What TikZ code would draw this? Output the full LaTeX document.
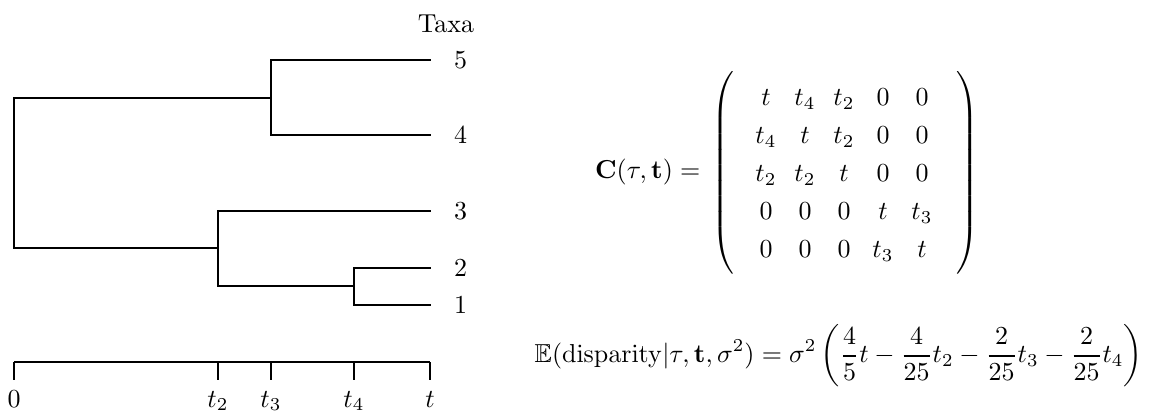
\documentclass[tikz,border=0pt]{standalone}
\usepackage{amsmath,amssymb}
\begin{document}
\begin{tikzpicture}[x=0.385pt,y=-0.385pt,line width=0.55pt,
  branch/.style={line cap=rect},
  tiplabel/.style={anchor=west,inner sep=0pt,xshift=9},
  axlabel/.style={anchor=base,inner sep=0pt},
  entry/.style={anchor=base,inner sep=0pt},
  paren/.style={inner sep=0pt}]
\useasboundingbox (0,0) rectangle (1158,412);
% tree coordinates
\coordinate (root) at (14,173);
\coordinate (nA) at (271,98);
\coordinate (nB) at (218,248);
\coordinate (nC) at (354,286);
\coordinate (tip5) at (430,60);
\coordinate (tip4) at (430,135);
\coordinate (tip3) at (430,211);
\coordinate (tip2) at (430,268);
\coordinate (tip1) at (430,305);
\draw[branch] (nA) -| (root) |- (nB);
\draw[branch] (tip5) -| (nA) |- (tip4);
\draw[branch] (tip3) -| (nB) |- (nC);
\draw[branch] (tip2) -| (nC) |- (tip1);
\node[tiplabel] (l5) at (tip5) {5};
\node[tiplabel] (l4) at (tip4) {4};
\node[tiplabel] (l3) at (tip3) {3};
\node[tiplabel] (l2) at (tip2) {2};
\node[tiplabel] (l1) at (tip1) {1};
\node[axlabel] (taxa) at (446,32) {Taxa};
% axis
\coordinate (a0) at (14,362);
\coordinate (a2) at (218,362);
\coordinate (a3) at (271,362);
\coordinate (a4) at (354,362);
\coordinate (at) at (430,362);
\coordinate (b0) at (14,380);
\coordinate (b2) at (218,380);
\coordinate (b3) at (271,380);
\coordinate (b4) at (354,380);
\coordinate (bt) at (430,380);
\draw (a0) -- (at);
\draw (a0) -- (b0);
\draw (a2) -- (b2);
\draw (a3) -- (b3);
\draw (a4) -- (b4);
\draw (at) -- (bt);
\node[axlabel] (x0) at (14,407) {$0$};
\node[axlabel] (x2) at (218,407) {$t_2$};
\node[axlabel] (x3) at (271,407) {$t_3$};
\node[axlabel] (x4) at (354,407) {$t_4$};
\node[axlabel] (xt) at (430,407) {$t$};
% matrix
\node[anchor=east,inner sep=0pt] (Clab) at (701,172) {$\mathbf{C}(\tau,\mathbf{t}) =$};
\node[paren] (lp) at (724,173) {$\left(\vrule height 43pt depth 38pt width 0pt\right.$};
\node[paren] (rp) at (966,173) {$\left.\vrule height 43pt depth 38pt width 0pt\right)$};
\foreach \r/\y in {1/105.5,2/143.5,3/181.5,4/219.5,5/257.5}{
  \foreach \c/\x in {1/766,2/805,3/844,4/883,5/922}{
    \coordinate (m\r\c) at (\x,\y);
  }
}
\node[entry] (e11) at (m11) {$t$};
\node[entry] (e12) at (m12) {$t_4$};
\node[entry] (e13) at (m13) {$t_2$};
\node[entry] (e14) at (m14) {$0$};
\node[entry] (e15) at (m15) {$0$};
\node[entry] (e21) at (m21) {$t_4$};
\node[entry] (e22) at (m22) {$t$};
\node[entry] (e23) at (m23) {$t_2$};
\node[entry] (e24) at (m24) {$0$};
\node[entry] (e25) at (m25) {$0$};
\node[entry] (e31) at (m31) {$t_2$};
\node[entry] (e32) at (m32) {$t_2$};
\node[entry] (e33) at (m33) {$t$};
\node[entry] (e34) at (m34) {$0$};
\node[entry] (e35) at (m35) {$0$};
\node[entry] (e41) at (m41) {$0$};
\node[entry] (e42) at (m42) {$0$};
\node[entry] (e43) at (m43) {$0$};
\node[entry] (e44) at (m44) {$t$};
\node[entry] (e45) at (m45) {$t_3$};
\node[entry] (e51) at (m51) {$0$};
\node[entry] (e52) at (m52) {$0$};
\node[entry] (e53) at (m53) {$0$};
\node[entry] (e54) at (m54) {$t_3$};
\node[entry] (e55) at (m55) {$t$};
% expectation
\node[anchor=west,inner sep=0pt] (Eq) at (534,356) {$\displaystyle \mathbb{E}(\mathrm{disparity}|\tau,\mathbf{t},\sigma^2) = \sigma^2\left(\frac{4}{5}t-\frac{4}{25}t_2-\frac{2}{25}t_3-\frac{2}{25}t_4\right)$};
\end{tikzpicture}
\end{document}
